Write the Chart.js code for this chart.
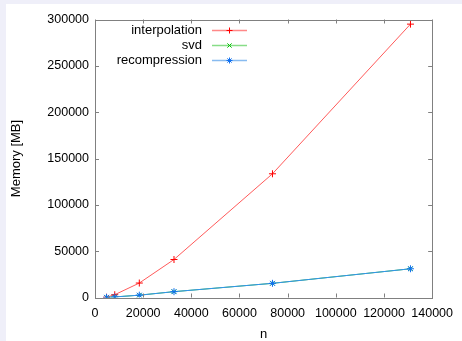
<!DOCTYPE html>
<html>
<head>
<meta charset="utf-8">
<script src="https://cdn.jsdelivr.net/npm/chart.js@4.4.1/dist/chart.umd.min.js"></script>
<style>
html,body{margin:0;padding:0;background:#efeff9;width:462px;height:341px;overflow:hidden;}
#wrap{position:absolute;left:6px;top:4px;width:456px;height:337px;background:#fff;}
canvas{display:block;}
</style>
</head>
<body>
<div id="wrap"><canvas id="c" width="456" height="337"></canvas></div>
<script>
const nValues = [4800, 8200, 18400, 32800, 73700, 131000];
const interpolation = [300, 3000, 15600, 41000, 133500, 295000];
const svd = [150, 600, 2500, 6300, 15300, 31000];
const recompression = [150, 600, 2500, 6300, 15300, 31000];
const xTicks = [0, 20000, 40000, 60000, 80000, 100000, 120000, 140000];
const yTicks = [0, 50000, 100000, 150000, 200000, 250000, 300000];
const seriesNames = ['interpolation', 'svd', 'recompression'];

const FONT = 'Liberation Sans, Arial, Helvetica, sans-serif';

function pts(vals){ return nValues.map((n,i)=>({x:n, y:vals[i]})); }

const legendColors = ['#ff8888', '#88dd88', '#88bbf0'];

const frameAndLegend = {
  id: 'frameAndLegend',
  afterDraw(chart){
    const ctx = chart.ctx;
    const a = chart.chartArea;
    const xs = chart.scales.x, ys = chart.scales.y;
    ctx.save();
    ctx.strokeStyle = '#808080';
    ctx.lineWidth = 1;
    ctx.strokeRect(Math.round(a.left)+0.5, Math.round(a.top)+0.5, Math.round(a.right-a.left), Math.round(a.bottom-a.top));
    const tl = 4;
    ctx.beginPath();
    xTicks.forEach(v=>{
      const px = Math.round(xs.getPixelForValue(v))+0.5;
      ctx.moveTo(px, a.bottom); ctx.lineTo(px, a.bottom - tl);
      ctx.moveTo(px, a.top); ctx.lineTo(px, a.top + tl);
    });
    yTicks.forEach(v=>{
      const py = Math.round(ys.getPixelForValue(v))+0.5;
      ctx.moveTo(a.left, py); ctx.lineTo(a.left + tl, py);
      ctx.moveTo(a.right, py); ctx.lineTo(a.right - tl, py);
    });
    ctx.stroke();

    // legend
    const textRight = a.left + 107;
    const lineX0 = a.left + 117, lineX1 = a.left + 152;
    ctx.font = '13px ' + FONT;
    ctx.textAlign = 'right';
    ctx.textBaseline = 'middle';
    chart.data.datasets.forEach((ds, i)=>{
      const y = a.top + 11 + i*15;
      ctx.fillStyle = '#000';
      ctx.fillText(ds.label, textRight, y);
      ctx.strokeStyle = legendColors[i];
      ctx.lineWidth = 1.6;
      ctx.beginPath(); ctx.moveTo(lineX0, y); ctx.lineTo(lineX1, y); ctx.stroke();
      const cx = (lineX0+lineX1)/2;
      ctx.strokeStyle = ds.pointBorderColor;
      ctx.lineWidth = 1;
      Chart.helpers.drawPoint(ctx, {pointStyle: ds.pointStyle, radius: 3, borderWidth: 1}, cx, y);
    });
    ctx.restore();
  }
};

const chart = new Chart(document.getElementById('c'), {
  type: 'line',
  data: {
    datasets: [
      {label: seriesNames[0], data: pts(interpolation), borderColor: '#ff5a5a', borderWidth: 1,
       pointStyle: 'cross', pointRadius: 3.5, pointBorderColor: '#ff0000', pointBorderWidth: 1, order: 3, fill:false, tension:0},
      {label: seriesNames[1], data: pts(svd), borderColor: '#40c040', borderWidth: 1,
       pointStyle: 'crossRot', pointRadius: 3, pointBorderColor: '#00c000', pointBorderWidth: 1, order: 2, fill:false, tension:0},
      {label: seriesNames[2], data: pts(recompression), borderColor: '#3393f0', borderWidth: 1,
       pointStyle: 'star', pointRadius: 3.5, pointBorderColor: '#1070f0', pointBorderWidth: 1, order: 1, fill:false, tension:0}
    ]
  },
  options: {
    responsive: false,
    animation: false,
    events: [],
    layout: {padding: {top: 15.5, right: 25, bottom: 0, left: 0}},
    plugins: {legend: {display: false}, tooltip: {enabled: false}},
    scales: {
      x: {
        type: 'linear', min: 0, max: 140000,
        afterBuildTicks(s){ s.ticks = xTicks.map(v=>({value:v})); },
        afterFit(s){ s.height = 43.5; },
        grid: {display: false, drawTicks: false},
        border: {display: false},
        ticks: {color: '#000', font: {family: FONT, size: 12.5}, padding: 9, maxRotation: 0, autoSkip: false,
                callback: v => String(v)},
        title: {display: true, text: 'n', color: '#000', font: {family: FONT, size: 13, lineHeight: 1}, padding: {top:0, bottom:0}}
      },
      y: {
        type: 'linear', min: 0, max: 300000,
        afterBuildTicks(s){ s.ticks = yTicks.map(v=>({value:v})); },
        afterFit(s){ s.width = 89; },
        grid: {display: false, drawTicks: false},
        border: {display: false},
        ticks: {color: '#000', font: {family: FONT, size: 12.5}, padding: 6, autoSkip: false,
                callback: v => String(v)},
        title: {display: true, text: 'Memory [MB]', color: '#000', font: {family: FONT, size: 13, lineHeight: 1}, padding: {top:3.5, bottom:0}}
      }
    }
  },
  plugins: [frameAndLegend]
});
</script>
</body>
</html>
